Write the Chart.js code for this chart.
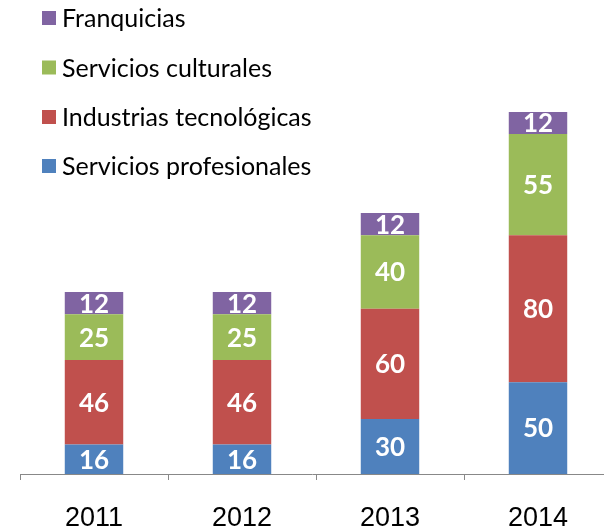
<!DOCTYPE html>
<html>
<head>
<meta charset="utf-8">
<script src="https://cdn.jsdelivr.net/npm/chart.js@4/dist/chart.umd.min.js"></script>
<style>
  html, body { margin: 0; padding: 0; background: #ffffff; }
  #wrap { width: 604px; height: 530px; }
</style>
</head>
<body>
<div id="wrap"><canvas id="c" width="604" height="530"></canvas></div>
<script>
const categories = ["2011", "2012", "2013", "2014"];
const seriesNames = ["Servicios profesionales", "Industrias tecnológicas", "Servicios culturales", "Franquicias"];
const serviciosProfesionales = [16, 16, 30, 50];
const industriasTecnologicas = [46, 46, 60, 80];
const serviciosCulturales = [25, 25, 40, 55];
const franquicias = [12, 12, 12, 12];
const seriesColors = ["#4F81BD", "#C0504D", "#9BBB59", "#8064A2"];

const seriesValues = [serviciosProfesionales, industriasTecnologicas, serviciosCulturales, franquicias];

// The reference's category axis runs past the right edge of the picture.
const widenX = {
  id: 'widenX',
  afterLayout(chart) {
    const s = chart.scales.x;
    s.right = s.left + 592;
    s.width = 592;
    s.configure();
  }
};

const valueLabels = {
  id: 'valueLabels',
  afterDatasetsDraw(chart) {
    const ctx = chart.ctx;
    ctx.save();
    ctx.fillStyle = '#ffffff';
    ctx.font = 'bold 26px Lato';
    ctx.textAlign = 'center';
    ctx.textBaseline = 'middle';
    chart.data.datasets.forEach((ds, i) => {
      const meta = chart.getDatasetMeta(i);
      meta.data.forEach((bar, j) => {
        const p = bar.getProps(['x', 'y', 'base'], true);
        ctx.fillText(String(ds.data[j]), p.x, (p.y + p.base) / 2 + 1);
      });
    });
    ctx.restore();
  }
};

const sideLegend = {
  id: 'sideLegend',
  afterDraw(chart) {
    const ctx = chart.ctx;
    ctx.save();
    ctx.font = '25px Lato';
    ctx.textBaseline = 'middle';
    ctx.textAlign = 'left';
    const rows = [18, 67.5, 117, 166];
    const dsList = chart.data.datasets.slice().reverse();
    dsList.forEach((ds, k) => {
      const cy = rows[k];
      ctx.fillStyle = ds.backgroundColor;
      ctx.fillRect(42, cy - 7, 14, 14);
      ctx.fillStyle = '#000000';
      ctx.fillText(ds.label, 62, cy + 1);
    });
    ctx.restore();
  }
};

new Chart(document.getElementById('c'), {
  type: 'bar',
  data: {
    labels: categories,
    datasets: seriesValues.map((vals, i) => ({
      label: seriesNames[i],
      data: vals,
      backgroundColor: seriesColors[i],
      borderWidth: 0,
      categoryPercentage: 1.0,
      barPercentage: 0.395
    }))
  },
  options: {
    responsive: false,
    animation: false,
    devicePixelRatio: 1,
    layout: { padding: { left: 20, right: 0, top: 0, bottom: 0 } },
    plugins: {
      legend: { display: false },
      tooltip: { enabled: false }
    },
    scales: {
      x: {
        stacked: true,
        afterFit(scale) { scale.height = 56; },
        grid: {
          offset: true,
          drawOnChartArea: false,
          drawTicks: true,
          tickLength: 6,
          color: '#888888'
        },
        border: { display: true, color: '#888888', width: 1 },
        ticks: {
          color: '#000000',
          font: { family: 'Liberation Sans', size: 27 },
          padding: 22
        }
      },
      y: {
        stacked: true,
        display: false,
        min: 0,
        max: 258
      }
    }
  },
  plugins: [widenX, valueLabels, sideLegend]
});
</script>
</body>
</html>
